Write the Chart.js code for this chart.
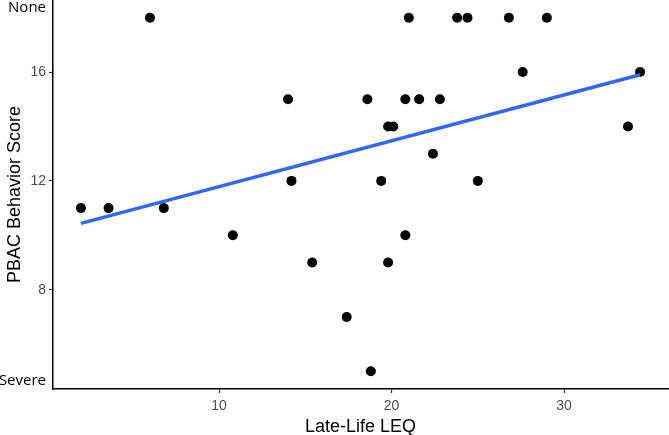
<!DOCTYPE html>
<html>
<head>
<meta charset="utf-8">
<script src="https://cdn.jsdelivr.net/npm/chart.js@4.4.1/dist/chart.umd.min.js"></script>
<style>
  html, body { margin: 0; padding: 0; background: #fff; }
  #wrap { width: 669px; height: 435px; }
</style>
</head>
<body>
<div id="wrap"><canvas id="chart"></canvas></div>
<script>
// values
var leqValues = [2, 3.6, 6, 6.8, 10.8, 14, 14.2, 15.4, 17.4, 18.6, 18.8, 19.4, 19.8, 19.8, 20.1,
                 20.8, 20.8, 21, 21.6, 22.4, 22.8, 23.8, 24.4, 25, 26.8, 27.6, 29, 33.7, 34.4];
var pbacValues = [11, 11, 18, 11, 10, 15, 12, 9, 7, 15, 5, 12, 9, 14, 14,
                  10, 15, 18, 15, 13, 15, 18, 18, 12, 18, 16, 18, 14, 16];
var fitX = [2, 34.4];
var fitY = [10.44, 15.9];

var xTicks = [10, 20, 30];
var yTicks = [4.64, 8, 12, 16, 18.37];
var yTickLabels = ['Severe', '8', '12', '16', 'None'];

var points = leqValues.map(function (x, i) {
    return { x: x, y: pbacValues[i] };
});
var fitLine = fitX.map(function (x, i) {
    return { x: x, y: fitY[i] };
});

function isWordTick(v) {
    var i = yTicks.indexOf(v);
    return i >= 0 && isNaN(Number(yTickLabels[i]));
}

new Chart(document.getElementById('chart'), {
    type: 'scatter',
    data: {
        datasets: [
            {
                type: 'line',
                data: fitLine,
                borderColor: '#3366FF',
                borderWidth: 3.5,
                pointRadius: 0,
                fill: false,
                order: 0
            },
            {
                data: points,
                backgroundColor: '#000',
                borderWidth: 0,
                pointRadius: 5,
                pointHoverRadius: 5,
                order: 1
            }
        ]
    },
    options: {
        responsive: true,
        maintainAspectRatio: false,
        animation: false,
        layout: { autoPadding: false, padding: { top: 0, right: 1, bottom: 0, left: 0 } },
        plugins: {
            legend: { display: false },
            tooltip: { enabled: false }
        },
        scales: {
            x: {
                type: 'linear',
                min: 0.38,
                max: 36.02,
                afterBuildTicks: function (scale) {
                    scale.ticks = xTicks.map(function (v) { return { value: v }; });
                },
                afterFit: function (scale) {
                    scale.height = 46;
                    scale.paddingLeft = 0;
                    scale.paddingRight = 0;
                },
                grid: {
                    drawOnChartArea: false,
                    drawTicks: true,
                    tickLength: 4,
                    tickColor: '#333',
                    tickWidth: 1.2
                },
                border: { display: true, color: '#000', width: 1.5 },
                ticks: {
                    color: '#4d4d4d',
                    padding: 5,
                    maxRotation: 0,
                    font: { family: 'Liberation Sans', size: 14 }
                },
                title: {
                    display: true,
                    text: 'Late-Life LEQ',
                    color: '#000',
                    padding: 0,
                    font: { family: 'Liberation Sans', size: 18, lineHeight: 0.85 }
                }
            },
            y: {
                type: 'linear',
                min: 4.35,
                max: 18.65,
                afterBuildTicks: function (scale) {
                    scale.ticks = yTicks.map(function (v) { return { value: v }; });
                },
                afterFit: function (scale) {
                    scale.width = 53;
                    scale.paddingTop = 0;
                    scale.paddingBottom = 0;
                },
                grid: {
                    drawOnChartArea: false,
                    drawTicks: true,
                    tickLength: 4,
                    tickWidth: 1.2,
                    tickColor: function (ctx) {
                        return ctx.tick && isWordTick(ctx.tick.value) ? 'rgba(0,0,0,0)' : '#333';
                    }
                },
                border: { display: true, color: '#000', width: 1.5 },
                ticks: {
                    padding: 3,
                    callback: function (value) {
                        var i = yTicks.indexOf(value);
                        return i >= 0 ? yTickLabels[i] : '';
                    },
                    color: function (ctx) {
                        return ctx.tick && isWordTick(ctx.tick.value) ? '#000' : '#4d4d4d';
                    },
                    font: function (ctx) {
                        if (ctx.tick && isWordTick(ctx.tick.value)) {
                            return { family: 'Open Sans', size: 15 };
                        }
                        return { family: 'Liberation Sans', size: 14 };
                    }
                },
                title: {
                    display: true,
                    text: 'PBAC Behavior Score',
                    color: '#000',
                    padding: { top: 6, bottom: 0 },
                    font: { family: 'Liberation Sans', size: 18, lineHeight: 1 }
                }
            }
        }
    }
});
</script>
</body>
</html>
